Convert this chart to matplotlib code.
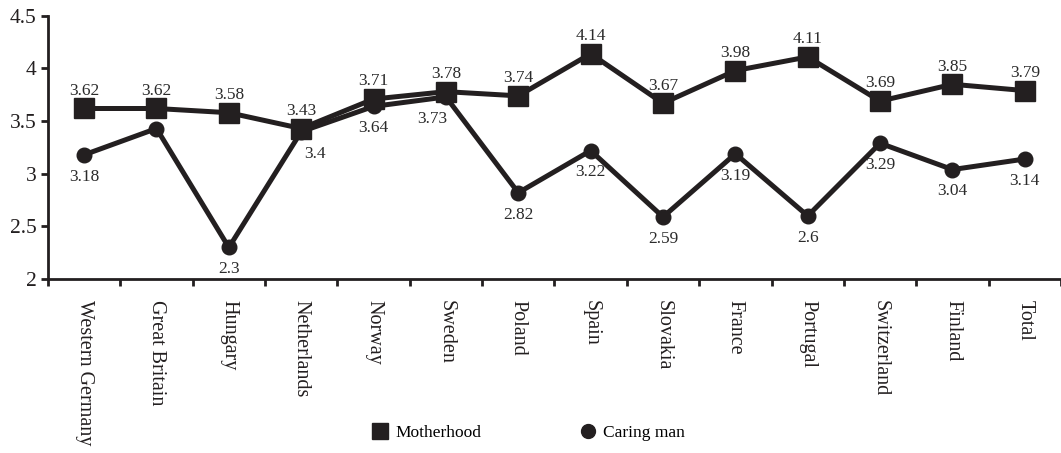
import matplotlib
matplotlib.use("Agg")
import matplotlib.pyplot as plt
from matplotlib.lines import Line2D

countries = ["Western Germany", "Great Britain", "Hungary", "Netherlands", "Norway",
             "Sweden", "Poland", "Spain", "Slovakia", "France", "Portugal",
             "Switzerland", "Finland", "Total"]
motherhood = [3.62, 3.62, 3.58, 3.43, 3.71, 3.78, 3.74, 4.14, 3.67, 3.98, 4.11, 3.69, 3.85, 3.79]
caring_man = [3.18, 3.43, 2.30, 3.40, 3.64, 3.73, 2.82, 3.22, 2.59, 3.19, 2.60, 3.29, 3.04, 3.14]
caring_labels = ["3.18", None, "2.3", "3.4", "3.64", "3.73", "2.82", "3.22", "2.59",
                 "3.19", "2.6", "3.29", "3.04", "3.14"]
mother_labels = ["3.62", "3.62", "3.58", "3.43", "3.71", "3.78", "3.74", "4.14", "3.67",
                 "3.98", "4.11", "3.69", "3.85", "3.79"]

ink = "#231f20"
plt.rcParams["font.family"] = ["Liberation Serif", "DejaVu Serif"]

fig = plt.figure(figsize=(10.61, 4.53), dpi=100)
ax = fig.add_axes([0.0452, 0.384, 0.9548, 0.581])

x = list(range(len(countries)))
ax.plot(x, motherhood, color=ink, lw=3.6, marker="s", ms=14, zorder=3)
ax.plot(x, caring_man, color=ink, lw=3.6, marker="o", ms=10.5, zorder=3)

for i, lab in enumerate(mother_labels):
    ax.annotate(lab, (i, motherhood[i]), xytext=(0, 7), textcoords="offset points",
                ha="center", va="bottom", fontsize=12.5, color="#2b2b2b")
for i, lab in enumerate(caring_labels):
    if lab is None:
        continue
    dx = 0
    if countries[i] == "Netherlands":
        dx = 10
    elif countries[i] == "Sweden":
        dx = -10
    ax.annotate(lab, (i, caring_man[i]), xytext=(dx, -10), textcoords="offset points",
                ha="center", va="top", fontsize=12.5, color="#2b2b2b")

ax.set_xlim(-0.5, len(countries) - 0.5)
ax.set_ylim(2, 4.5)
ax.set_yticks([2, 2.5, 3, 3.5, 4, 4.5])
ax.set_yticklabels(["2", "2.5", "3", "3.5", "4", "4.5"], fontsize=15.5, color=ink)

ax.set_xticks([i - 0.5 for i in range(len(countries) + 1)])
ax.set_xticklabels([])
ax.set_xticks(x, minor=True)
ax.set_xticklabels(countries, minor=True, rotation=270, fontsize=14.5, color=ink,
                   va="top", ha="center")
ax.tick_params(axis="x", which="major", length=5, width=2, color=ink, direction="out")
ax.tick_params(axis="x", which="minor", length=0, pad=15)
ax.tick_params(axis="y", length=5, width=2, color=ink, direction="out", pad=3)

for side in ("top", "right"):
    ax.spines[side].set_visible(False)
for side in ("left", "bottom"):
    ax.spines[side].set_linewidth(2)
    ax.spines[side].set_color(ink)

handles = [Line2D([], [], color=ink, marker="s", ls="none", ms=11),
           Line2D([], [], color=ink, marker="o", ls="none", ms=10)]
fig.legend(handles, ["Motherhood", "Caring man"], loc="center", ncol=2,
           bbox_to_anchor=(0.497, 0.045), frameon=False, fontsize=12.5,
           columnspacing=5.5, handletextpad=0.3, handlelength=1.2)

fig.savefig("out.png", dpi=100)
